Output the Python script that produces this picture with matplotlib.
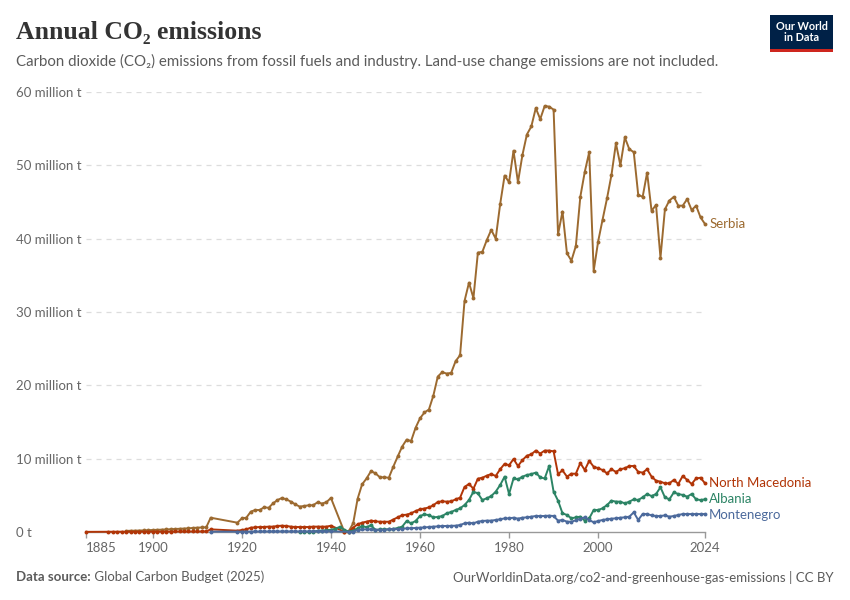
import matplotlib
matplotlib.use("Agg")
import matplotlib.pyplot as plt
from matplotlib.patches import Rectangle
import numpy as np

plt.rcParams['font.family'] = ['Lato', 'DejaVu Sans']

# ---------------- data (million tonnes CO2) ----------------
serbia_years = list(range(1894, 1914)) + list(range(1919, 1941)) + list(range(1943, 2025))
serbia_values = [
    0.15, 0.17, 0.18, 0.20, 0.22, 0.25, 0.27, 0.30, 0.32, 0.35,
    0.38, 0.41, 0.44, 0.47, 0.50, 0.55, 0.59, 0.62, 0.64, 1.95,
    # 1919-1940
    1.27, 1.86, 1.95, 2.77, 3.00, 3.00, 3.37, 3.30, 3.90, 4.36, 4.64,
    4.45, 4.14, 3.77, 3.46, 3.55, 3.64, 3.65, 4.05, 3.88, 4.07, 4.64,
    # 1943-2024
    0.05, 0.10, 1.20, 4.55, 6.50, 7.30, 8.30, 8.00, 7.46, 7.46,
    7.40, 8.90, 10.3, 11.65, 12.6, 12.4, 14.2, 15.5, 16.3, 16.7,
    18.6, 21.2, 21.8, 21.6, 21.7, 23.3, 24.1, 31.5, 34.0, 31.9,
    38.1, 38.2, 39.8, 41.2, 40.0, 44.7, 48.6, 47.7, 52.0, 47.7,
    51.4, 54.2, 55.3, 57.8, 56.3, 58.1, 58.0, 57.6, 40.6, 43.7,
    38.0, 37.0, 39.0, 45.7, 49.1, 51.8, 35.6, 39.6, 42.6, 45.5,
    48.7, 53.0, 50.0, 53.8, 52.2, 51.8, 46.0, 45.7, 49.0, 43.8,
    44.6, 37.4, 44.0, 45.2, 45.7, 44.5, 44.5, 45.4, 43.9, 44.5,
    42.9, 42.0,
]

nmk_years = [1885] + list(range(1890, 1914)) + list(range(1919, 1941)) + list(range(1943, 2025))
nmk_values = [
    0.02,
    0.04, 0.04, 0.05, 0.05, 0.05, 0.05, 0.05, 0.05, 0.05, 0.06,
    0.06, 0.06, 0.06, 0.06, 0.06, 0.07, 0.07, 0.07, 0.07, 0.07,
    0.07, 0.08, 0.08, 0.36,
    # 1919-1940
    0.18, 0.27, 0.36, 0.59, 0.64, 0.68, 0.68, 0.73, 0.73, 0.82, 0.86,
    0.82, 0.73, 0.68, 0.68, 0.68, 0.68, 0.73, 0.73, 0.73, 0.73, 0.86,
    # 1943-2024
    0.05, 0.02, 0.60, 1.05, 1.27, 1.41, 1.56, 1.45, 1.40, 1.40,
    1.40, 1.70, 2.00, 2.30, 2.36, 2.55, 2.85, 3.10, 3.20, 3.35,
    3.65, 4.10, 4.18, 4.14, 4.18, 4.45, 4.68, 6.14, 6.55, 5.90,
    7.27, 7.40, 7.68, 7.90, 7.64, 8.55, 9.30, 9.10, 9.95, 9.00,
    9.80, 10.4, 10.6, 11.1, 10.7, 11.1, 11.1, 11.0, 7.90, 8.40,
    7.55, 7.95, 7.95, 9.40, 8.45, 9.70, 8.90, 8.70, 8.45, 8.00,
    8.55, 8.20, 8.55, 8.70, 9.00, 9.00, 8.20, 8.10, 8.55, 7.55,
    7.00, 6.86, 6.64, 6.64, 7.10, 6.55, 7.64, 7.10, 6.55, 7.30,
    7.40, 6.64,
]

albania_years = list(range(1933, 2025))
albania_values = [
    0.02, 0.02, 0.03, 0.05, 0.15, 0.20, 0.25, 0.30, 0.45, 0.70, 0.30, 0.05,
    # 1945-2024
    0.18, 0.50, 0.82, 0.64, 0.95, 0.27, 0.36, 0.36, 0.36, 0.41,
    0.55, 0.73, 1.50, 1.18, 1.50, 2.18, 2.40, 2.30, 2.00, 2.05,
    2.18, 2.55, 2.73, 3.00, 3.23, 3.68, 4.36, 5.50, 5.27, 4.36,
    4.60, 4.90, 5.50, 6.40, 7.55, 5.18, 7.30, 7.18, 7.55, 7.77,
    7.90, 8.10, 7.45, 7.30, 9.00, 5.50, 4.27, 2.55, 2.32, 1.86,
    2.00, 2.09, 1.55, 1.86, 3.00, 3.00, 3.23, 3.68, 4.27, 4.14,
    4.14, 3.90, 4.14, 4.45, 4.36, 4.73, 5.18, 4.90, 5.18, 6.10,
    4.73, 4.45, 5.40, 5.18, 5.05, 4.82, 5.18, 4.45, 4.36, 4.45,
]

mne_years = [1913] + list(range(1919, 1941)) + list(range(1944, 2025))
mne_values = [
    0.05,
    # 1919-1940
    0.05, 0.05, 0.06, 0.06, 0.07, 0.07, 0.07, 0.08, 0.08, 0.08, 0.09,
    0.09, 0.08, 0.08, 0.08, 0.08, 0.08, 0.09, 0.09, 0.10, 0.10, 0.10,
    # 1944-2024
    0.02, 0.05, 0.27, 0.36, 0.36, 0.36, 0.30, 0.30, 0.30, 0.36,
    0.38, 0.41, 0.43, 0.50, 0.52, 0.55, 0.59, 0.62, 0.68, 0.73,
    0.76, 0.82, 0.82, 0.84, 0.86, 0.95, 1.18, 1.27, 1.18, 1.41,
    1.50, 1.55, 1.55, 1.64, 1.73, 1.86, 1.86, 1.95, 1.82, 1.95,
    2.00, 2.09, 2.18, 2.18, 2.18, 2.23, 2.18, 1.55, 1.64, 1.41,
    1.40, 1.60, 1.82, 2.00, 1.64, 1.32, 1.50, 1.64, 1.73, 1.82,
    1.86, 1.95, 2.00, 2.09, 2.68, 1.64, 2.45, 2.45, 2.27, 2.18,
    2.18, 2.27, 2.09, 2.18, 2.32, 2.45, 2.45, 2.45, 2.45, 2.45,
    2.45,
]

series = [
    ("Serbia", serbia_years, serbia_values, "#9C6A30"),
    ("North Macedonia", nmk_years, nmk_values, "#B13507"),
    ("Albania", albania_years, albania_values, "#2C8465"),
    ("Montenegro", mne_years, mne_values, "#4C6A9C"),
]

x_ticks = [1885, 1900, 1920, 1940, 1960, 1980, 2000, 2024]
y_ticks = [0, 10, 20, 30, 40, 50, 60]
y_tick_labels = ["0 t", "10 million t", "20 million t", "30 million t",
                 "40 million t", "50 million t", "60 million t"]

title = "Annual CO\u2082 emissions"
subtitle = ("Carbon dioxide (CO\u2082) emissions from fossil fuels and industry. "
            "Land-use change emissions are not included.")
source_bold = "Data source:"
source_rest = " Global Carbon Budget (2025)"
footer_right = "OurWorldinData.org/co2-and-greenhouse-gas-emissions | CC BY"

# ---------------- figure ----------------
W, H = 850, 600
fig = plt.figure(figsize=(W / 100, H / 100), dpi=100)
fig.patch.set_facecolor("white")

def fx(px):
    return px / W

def fy(py):
    return 1 - py / H

ax_left, ax_right, ax_top, ax_bottom = 86, 705, 92, 532
ax = fig.add_axes([fx(ax_left), fy(ax_bottom), fx(ax_right - ax_left), (ax_bottom - ax_top) / H])
ax.set_xlim(1885, 2024)
ax.set_ylim(0, 60)

for name, yrs, vals, col in series:
    assert len(yrs) == len(vals), name
    ax.plot(yrs, vals, color=col, lw=1.4, marker="o", ms=2.8, mew=0, zorder=3,
            clip_on=False)

# grid & axes styling
for s in ["top", "right", "left"]:
    ax.spines[s].set_visible(False)
ax.spines["bottom"].set_color("#999999")
ax.spines["bottom"].set_linewidth(1.0)
ax.set_yticks(y_ticks)
ax.set_yticklabels(y_tick_labels)
ax.yaxis.grid(True, color="#dddddd", linestyle=(0, (4, 4)), linewidth=0.9)
ax.set_axisbelow(True)
ax.tick_params(axis="y", length=0, pad=70 * 0.72, labelsize=9.5, labelcolor="#666666")
for lab in ax.get_yticklabels():
    lab.set_horizontalalignment("left")
ax.get_ygridlines()[0].set_visible(False)

ax.set_xticks(x_ticks)
ax.set_xticklabels([str(t) for t in x_ticks])
ax.tick_params(axis="x", length=4.5, width=1.0, color="#999999", pad=3,
               labelsize=9.5, labelcolor="#666666")
ax.get_xticklabels()[0].set_horizontalalignment("left")

# line end labels with simple collision avoidance
ends = [[name, vals[-1], col] for name, yrs, vals, col in series]
ends.sort(key=lambda e: e[1])
min_gap = 2.2
for _ in range(50):
    moved = False
    for i in range(len(ends) - 1):
        gap = ends[i + 1][1] - ends[i][1]
        if gap < min_gap:
            d = (min_gap - gap) / 2
            ends[i][1] -= d
            ends[i + 1][1] += d
            moved = True
    if not moved:
        break
for name, ypos, col in ends:
    ax.annotate(name, xy=(2024, ypos), xytext=(3, 0), textcoords="offset points",
                va="center", ha="left", fontsize=9.5, color=col, annotation_clip=False)

# ---------------- header ----------------
fig.text(fx(16), fy(32), title, fontsize=18.5, color="#333333", fontweight="bold",
         family=["Liberation Serif", "DejaVu Serif"], va="center", ha="left")
fig.text(fx(16), fy(61), subtitle, fontsize=10.8, color="#5b5b5b", va="center", ha="left")

# logo
fig.patches.append(Rectangle((fx(770), fy(52)), fx(63), (52 - 15) / H,
                             transform=fig.transFigure, facecolor="#002147", edgecolor="none"))
fig.patches.append(Rectangle((fx(770), fy(52)), fx(63), 3 / H,
                             transform=fig.transFigure, facecolor="#CE261E", edgecolor="none"))
fig.text(fx(801.5), fy(32), "Our World\nin Data", color="white", fontsize=7.8,
         fontweight="bold", ha="center", va="center", linespacing=1.0)

# ---------------- footer ----------------
t1 = fig.text(fx(16), fy(577), source_bold, fontsize=9.5, color="#5b5b5b",
              fontweight="bold", va="center", ha="left")
fig.canvas.draw()
bb = t1.get_window_extent()
fig.text(bb.x1 / W, fy(577), source_rest, fontsize=9.5, color="#5b5b5b",
         va="center", ha="left")
fig.text(fx(834), fy(577), footer_right, fontsize=9.5, color="#5b5b5b",
         va="center", ha="right")

fig.savefig("out.png", dpi=100, facecolor="white")
